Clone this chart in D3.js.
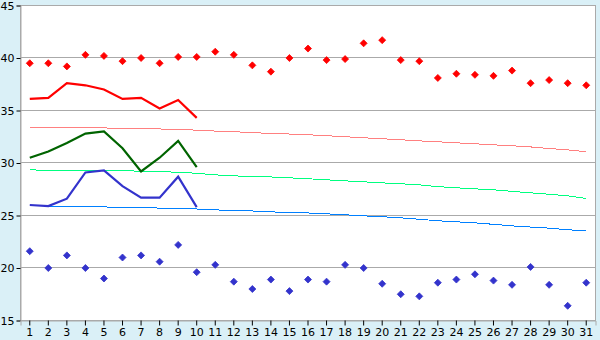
<!DOCTYPE html>
<html>
<head>
<meta charset="utf-8">
<script src="https://cdn.jsdelivr.net/npm/d3@7"></script>
<style>
  body { margin: 0; background: #daf0f7; }
  text { font-family: "DejaVu Sans", Verdana, sans-serif; font-size: 11px; fill: #000; }
</style>
</head>
<body>
<div id="chart"></div>
<script>
var days = d3.range(1, 32);
var yTicks = [15, 20, 25, 30, 35, 40, 45];

// record highs / lows (diamonds)
var recordMax = [39.5, 39.5, 39.2, 40.3, 40.2, 39.7, 40.0, 39.5, 40.1, 40.1,
  40.6, 40.3, 39.3, 38.7, 40.0, 40.9, 39.8, 39.9, 41.4, 41.7,
  39.8, 39.7, 38.1, 38.5, 38.4, 38.3, 38.8, 37.6, 37.9, 37.6, 37.4];
var recordMin = [21.6, 20.0, 21.2, 20.0, 19.0, 21.0, 21.2, 20.6, 22.2, 19.6,
  20.3, 18.7, 18.0, 18.9, 17.8, 18.9, 18.7, 20.3, 20.0, 18.5,
  17.5, 17.3, 18.6, 18.9, 19.4, 18.8, 18.4, 20.1, 18.4, 16.4, 18.6];

// observed this month (first 10 days)
var obsMax = [36.1, 36.2, 37.6, 37.4, 37.0, 36.1, 36.2, 35.2, 36.0, 34.3];
var obsMean = [30.5, 31.1, 31.9, 32.8, 33.0, 31.4, 29.2, 30.5, 32.1, 29.6];
var obsMin = [26.0, 25.9, 26.6, 29.1, 29.3, 27.8, 26.7, 26.7, 28.7, 25.8];

// normals
var normMax = [33.35, 33.35, 33.35, 33.35, 33.34, 33.30, 33.27, 33.24, 33.19, 33.13,
  33.04, 32.98, 32.90, 32.81, 32.76, 32.69, 32.60, 32.50, 32.40, 32.31,
  32.21, 32.11, 32.02, 31.92, 31.83, 31.73, 31.64, 31.53, 31.38, 31.25, 31.07];
var normMean = [29.35, 29.30, 29.26, 29.26, 29.26, 29.25, 29.23, 29.18, 29.12, 29.02,
  28.87, 28.78, 28.70, 28.67, 28.59, 28.50, 28.40, 28.30, 28.21, 28.11,
  28.02, 27.92, 27.75, 27.64, 27.54, 27.45, 27.30, 27.16, 27.02, 26.88, 26.62];
var normMin = [25.92, 25.90, 25.85, 25.83, 25.82, 25.75, 25.73, 25.71, 25.65, 25.62,
  25.54, 25.46, 25.43, 25.35, 25.27, 25.24, 25.16, 25.07, 24.97, 24.88,
  24.78, 24.64, 24.50, 24.40, 24.30, 24.16, 24.01, 23.90, 23.80, 23.64, 23.54];

var w = 600, h = 340,
  padL = 20.5, padR = 595.5, padT = 5.5, padB = 320.5;

var svg = d3.select("#chart").append("svg")
  .attr("width", w)
  .attr("height", h);

var x = d3.scaleBand().domain(days).range([padL, padR]);
var y = d3.scaleLinear().domain([15, 45]).range([padB, padT]);
var cx = function(d){ return x(d) + x.bandwidth() / 2; };

svg.append("rect")
  .attr("x", padL).attr("y", padT)
  .attr("width", padR - padL).attr("height", padB - padT)
  .attr("fill", "#fff")
  .attr("stroke", "#aaa");

// grid
svg.append("g").selectAll("line")
  .data(yTicks)
  .enter().append("line")
  .attr("x1", padL).attr("x2", padR)
  .attr("y1", function(d){ return Math.round(y(d)) - 0.5; })
  .attr("y2", function(d){ return Math.round(y(d)) - 0.5; })
  .attr("stroke", "#aaa");

// axes
var yAxis = svg.append("g")
  .attr("transform", "translate(" + padL + ",0)")
  .call(d3.axisLeft(y).tickValues(yTicks).tickSize(4).tickPadding(2));
yAxis.select(".domain").attr("stroke", "#aaa");
yAxis.selectAll(".tick line").attr("stroke", "#000");

var xAxis = svg.append("g")
  .attr("transform", "translate(0," + padB + ")")
  .call(d3.axisBottom(x).tickSize(5).tickPadding(3));
xAxis.select(".domain").attr("stroke", "#aaa");
xAxis.selectAll(".tick line").attr("stroke", "#000");
svg.selectAll(".tick text").style("font-size", "11px").style("font-family", "DejaVu Sans, sans-serif");

// lines
function drawLine(vals, color, width, crisp){
  var line = d3.line()
    .x(function(d, i){ return cx(days[i]); })
    .y(function(d){ return y(d); });
  svg.append("path")
    .datum(vals)
    .attr("d", line)
    .attr("fill", "none")
    .attr("stroke", color)
    .attr("stroke-width", width)
    .attr("shape-rendering", crisp ? "crispEdges" : "auto");
}

drawLine(normMax, "#ff8080", 1, true);
drawLine(normMean, "#00ff80", 1, true);
drawLine(normMin, "#0080ff", 1, true);

drawLine(obsMax, "#ff0000", 2.2, false);
drawLine(obsMean, "#006400", 2.2, false);
drawLine(obsMin, "#3333cc", 2.2, false);

// record diamonds
var diamond = "M0,-3.5L3.5,0L0,3.5L-3.5,0Z";
function drawMarks(vals, color){
  svg.append("g").selectAll("path")
    .data(vals)
    .enter().append("path")
    .attr("d", diamond)
    .attr("transform", function(d, i){ return "translate(" + cx(days[i]) + "," + y(d) + ")"; })
    .attr("fill", color)
    .attr("stroke", color)
    .attr("stroke-width", 0.8);
}
drawMarks(recordMax, "#ff0000");
drawMarks(recordMin, "#3333cc");
</script>
</body>
</html>
